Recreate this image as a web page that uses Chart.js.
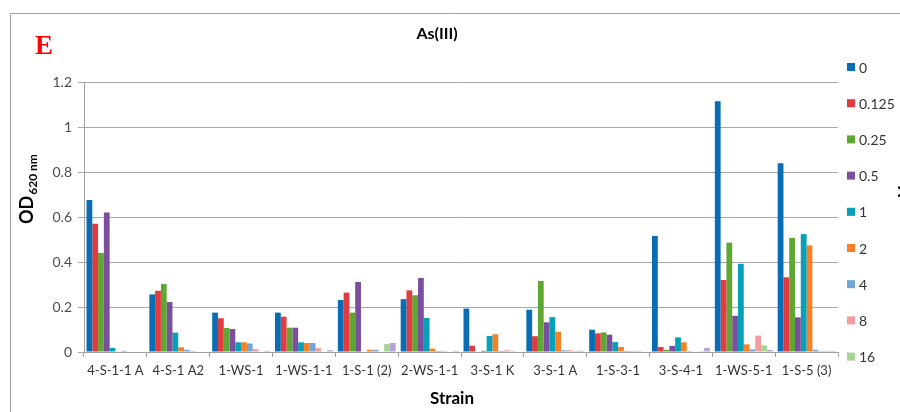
<!DOCTYPE html>
<html lang="en">
<head>
    <meta charset="UTF-8">
    <title>As(III)</title>
    <style>
        html, body { margin: 0; padding: 0; background: #fff; overflow: hidden; }
        #asChart { display: block; }
    </style>
</head>
<body>

<canvas id="asChart" width="900" height="412"></canvas>

<script src="https://cdn.jsdelivr.net/npm/chart.js"></script>
<script>
  // Strains on the x axis
  const strains = ['4-S-1-1 A', '4-S-1 A2', '1-WS-1', '1-WS-1-1', '1-S-1 (2)', '2-WS-1-1',
                   '3-S-1 K', '3-S-1 A', '1-S-3-1', '3-S-4-1', '1-WS-5-1', '1-S-5 (3)'];

  // As(III) concentrations (mM), one series each
  const concentrations = ['0', '0.125', '0.25', '0.5', '1', '2', '4', '8', '16', '32'];
  const seriesColors = ['#0a6db3', '#e23a3f', '#5ea732', '#7b4f9e', '#06a0b9', '#fb7f23',
                        '#71a7d8', '#f59c9e', '#a6d496', '#b5a4d4'];

  // OD620 values, per concentration, per strain
  const od0     = [0.676, 0.256, 0.175, 0.175, 0.231, 0.235, 0.193, 0.188, 0.099, 0.516, 1.114, 0.839];
  const od0125  = [0.570, 0.272, 0.150, 0.157, 0.264, 0.274, 0.028, 0.070, 0.083, 0.022, 0.320, 0.332];
  const od025   = [0.440, 0.302, 0.107, 0.108, 0.175, 0.252, 0.000, 0.316, 0.087, 0.010, 0.486, 0.507];
  const od05    = [0.620, 0.222, 0.102, 0.108, 0.311, 0.329, 0.005, 0.132, 0.077, 0.027, 0.161, 0.154];
  const od1     = [0.018, 0.086, 0.043, 0.043, 0.000, 0.151, 0.071, 0.155, 0.044, 0.065, 0.392, 0.524];
  const od2     = [0.000, 0.021, 0.043, 0.040, 0.010, 0.015, 0.079, 0.090, 0.022, 0.043, 0.034, 0.474];
  const od4     = [0.005, 0.010, 0.038, 0.040, 0.010, 0.005, 0.005, 0.008, 0.005, 0.004, 0.012, 0.010];
  const od8     = [0.000, 0.005, 0.013, 0.017, 0.000, 0.005, 0.008, 0.008, 0.005, 0.000, 0.073, 0.005];
  const od16    = [0.000, 0.000, 0.000, 0.000, 0.035, 0.000, 0.005, 0.005, 0.005, 0.004, 0.030, 0.005];
  const od32    = [0.000, 0.000, 0.005, 0.008, 0.040, 0.005, 0.000, 0.005, 0.000, 0.018, 0.009, 0.005];
  const seriesValues = [od0, od0125, od025, od05, od1, od2, od4, od8, od16, od32];

  // only the first nine show in the legend (the rest is cut off)
  const legendCount = 9;

  const yTicks = [0, 0.2, 0.4, 0.6, 0.8, 1, 1.2];

  const font = 'Lato, "Open Sans", sans-serif';

  // frame, titles, y label with subscript and the legend
  const decorations = {
    id: 'decorations',
    beforeDraw(chart) {
      const c = chart.ctx;
      c.save();
      c.strokeStyle = '#a0a0a0';
      c.lineWidth = 1;
      c.beginPath();
      c.moveTo(10.5, 412);
      c.lineTo(10.5, 13.5);
      c.lineTo(900, 13.5);
      c.stroke();
      c.restore();
    },
    afterDraw(chart) {
      const c = chart.ctx;
      c.save();

      c.fillStyle = '#ff0000';
      c.font = 'bold 27px "Liberation Serif", serif';
      c.textAlign = 'center';
      c.textBaseline = 'alphabetic';
      c.fillText('E', 44, 54);

      c.fillStyle = '#000';
      c.font = 'bold 16px ' + font;
      c.textBaseline = 'middle';
      c.fillText('As(III)', 437, 34);

      c.font = 'bold 17px ' + font;
      c.fillText('Strain', 452, 399);

      // y title: OD with 620 nm subscript
      c.save();
      c.translate(33, 224);
      c.rotate(-Math.PI / 2);
      c.textAlign = 'left';
      c.textBaseline = 'alphabetic';
      c.font = 'bold 18px ' + font;
      c.fillText('OD', 0, 0);
      const w = c.measureText('OD').width;
      c.font = 'bold 12px ' + font;
      c.fillText('620 nm', w + 1, 4);
      c.restore();

      // partly hidden unit label at the right edge
      c.save();
      c.translate(897, 197);
      c.rotate(-Math.PI / 2);
      c.textAlign = 'center';
      c.textBaseline = 'top';
      c.font = 'bold 13px ' + font;
      c.fillText('mM', 0, 0);
      c.restore();

      // legend
      c.font = '14px ' + font;
      c.textAlign = 'left';
      c.textBaseline = 'middle';
      chart.data.datasets.slice(0, legendCount).forEach((ds, i) => {
        const y = 67 + i * 36.2;
        c.fillStyle = ds.backgroundColor;
        c.fillRect(847, y - 4, 8, 8);
        c.fillStyle = '#333333';
        c.fillText(ds.label, 859, y + 1);
      });

      c.restore();
    }
  };

  const ctx = document.getElementById('asChart').getContext('2d');
  const asChart = new Chart(ctx, {
    type: 'bar',
    data: {
      labels: strains,
      datasets: concentrations.map((conc, i) => ({
        label: conc,
        data: seriesValues[i],
        backgroundColor: seriesColors[i],
        borderWidth: 0,
        categoryPercentage: 0.92,
        barPercentage: 1.0
      }))
    },
    options: {
      responsive: false,
      maintainAspectRatio: false,
      animation: false,
      devicePixelRatio: 1,
      layout: { padding: { left: 10, right: 62, top: 82, bottom: 0 } },
      plugins: {
        legend: { display: false },
        title: { display: false },
        tooltip: { enabled: false }
      },
      scales: {
        x: {
          offset: true,
          grid: {
            offset: true,
            drawOnChartArea: false,
            drawTicks: true,
            tickLength: 5,
            color: '#a0a0a0'
          },
          border: { color: '#a0a0a0' },
          ticks: {
            color: '#333333',
            font: { family: font, size: 13 },
            padding: 6,
            maxRotation: 0,
            autoSkip: false
          },
          afterFit(scale) { scale.height = 60; }
        },
        y: {
          min: 0,
          max: 1.2,
          afterBuildTicks(scale) { scale.ticks = yTicks.map(v => ({ value: v })); },
          grid: {
            color: '#a8a8a8',
            tickLength: 6
          },
          border: { color: '#a0a0a0' },
          ticks: {
            color: '#4d4d4d',
            font: { family: font, size: 14 },
            padding: 6,
            callback: v => String(v)
          },
          afterFit(scale) { scale.width = 74; }
        }
      }
    },
    plugins: [decorations]
  });
</script>

</body>
</html>
